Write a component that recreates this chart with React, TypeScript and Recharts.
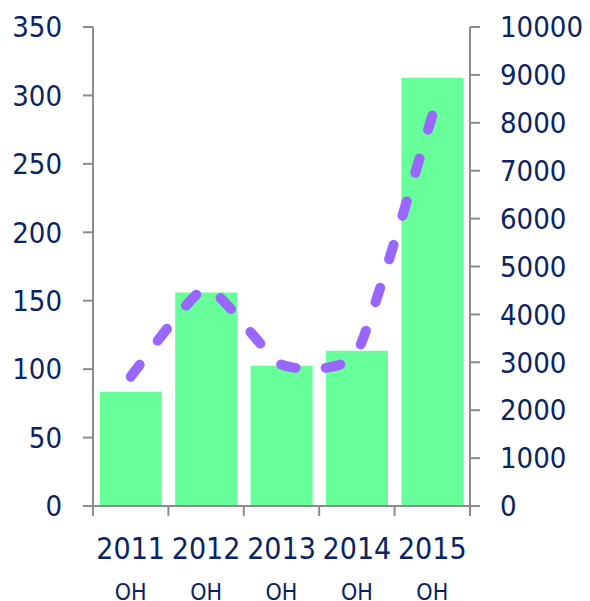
import { ComposedChart, Bar, Line, XAxis, YAxis } from "recharts";

const years = ["2011", "2012", "2013", "2014", "2015"];
const subLabels = ["OH", "OH", "OH", "OH", "OH"];
const barValues = [83.5, 156, 102.5, 113.5, 313];
const lineValues = [2700, 4550, 2950, 3200, 8150];
const leftTicks = [0, 50, 100, 150, 200, 250, 300, 350];
const rightTicks = [0, 1000, 2000, 3000, 4000, 5000, 6000, 7000, 8000, 9000, 10000];

const data = years.map((y, i) => ({
  year: y,
  sub: subLabels[i],
  bar: barValues[i],
  line: lineValues[i],
}));

const FONT = "'DejaVu Sans Condensed', 'DejaVu Sans', sans-serif";
const TEXT = "#0a2463";
const AXIS = "#8c8c8c";

// smoothed line, cardinal style with some tension
function smoothCurve(context: any) {
  let pts: [number, number][] = [];
  const k = 1 / 12;
  return {
    areaStart() {},
    areaEnd() {},
    lineStart() { pts = []; },
    point(x: number, y: number) { pts.push([+x, +y]); },
    lineEnd() {
      if (!pts.length) return;
      context.moveTo(pts[0][0], pts[0][1]);
      for (let i = 0; i < pts.length - 1; i++) {
        const p0 = pts[Math.max(0, i - 1)];
        const p1 = pts[i];
        const p2 = pts[i + 1];
        const p3 = pts[Math.min(pts.length - 1, i + 2)];
        context.bezierCurveTo(
          p1[0] + (p2[0] - p0[0]) * k, p1[1] + (p2[1] - p0[1]) * k,
          p2[0] - (p3[0] - p1[0]) * k, p2[1] - (p3[1] - p1[1]) * k,
          p2[0], p2[1]
        );
      }
    },
  };
}

// year + "OH" label, plus tick marks on the category boundaries
function YearTick(props: Record<string, unknown>) {
  const { x, y, payload, index, visibleTicksCount } = props as {
    x: number; y: number; payload: { value: string; offset?: number }; index: number; visibleTicksCount: number;
  };
  const half = payload.offset ?? 0;
  const last = index === (visibleTicksCount ?? years.length) - 1;
  return (
    <g>
      {half > 0 && <line x1={x - half} x2={x - half} y1={y} y2={y + 10} stroke={AXIS} strokeWidth={2} />}
      {half > 0 && last && <line x1={x + half} x2={x + half} y1={y} y2={y + 10} stroke={AXIS} strokeWidth={2} />}
      <text x={x} y={y + 53} textAnchor="middle" fill={TEXT} fontSize={30} fontFamily={FONT}>
        {payload.value}
      </text>
      <text x={x} y={y + 94} textAnchor="middle" fill={TEXT} fontSize={23} fontFamily={FONT}>
        {subLabels[index]}
      </text>
    </g>
  );
}

export default function App() {
  return (
    <ComposedChart
      width={574}
      height={593}
      data={data}
      margin={{ top: 19, right: 0, bottom: 0, left: 0 }}
      barCategoryGap="9%"
    >
      <XAxis
        dataKey="year"
        tickLine={false}
        tickSize={0}
        tickMargin={0}
        axisLine={{ stroke: AXIS, strokeWidth: 2 }}
        tick={<YearTick />}
        height={95}
        interval={0}
      />
      <YAxis
        yAxisId="left"
        domain={[0, 350]}
        ticks={leftTicks}
        width={85}
        tickSize={10}
        tickMargin={21}
        axisLine={{ stroke: AXIS, strokeWidth: 2 }}
        tickLine={{ stroke: AXIS, strokeWidth: 2 }}
        tick={{ fill: TEXT, fontSize: 29, fontFamily: FONT }}
      />
      <YAxis
        yAxisId="right"
        orientation="right"
        domain={[0, 10000]}
        ticks={rightTicks}
        width={112}
        tickSize={10}
        tickMargin={20}
        axisLine={{ stroke: AXIS, strokeWidth: 2 }}
        tickLine={{ stroke: AXIS, strokeWidth: 2 }}
        tick={{ fill: TEXT, fontSize: 29, fontFamily: FONT }}
      />
      <Bar yAxisId="left" dataKey="bar" fill="#66ff99" isAnimationActive={false} />
      <Line
        yAxisId="right"
        dataKey="line"
        type={smoothCurve as any}
        stroke="#9966ff"
        strokeWidth={10}
        strokeDasharray="15 30"
        strokeLinecap="round"
        dot={false}
        activeDot={false}
        isAnimationActive={false}
      />
    </ComposedChart>
  );
}
